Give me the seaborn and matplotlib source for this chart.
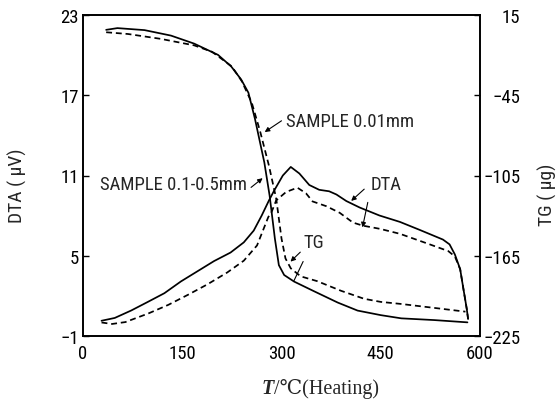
import matplotlib
matplotlib.use("Agg")
import matplotlib.pyplot as plt
from matplotlib import font_manager as fm
import seaborn as sns
import pandas as pd

# ---------------- data ----------------
temp_tg_solid = [35, 52, 93, 133, 168, 204, 224, 239, 250, 260, 274, 282, 290, 296,
                 304, 319, 349, 385, 415, 450, 481, 531, 581]
tg_solid = [3.9, 5.2, 3.7, -0.4, -6.4, -14.8, -23.5, -33.2, -43.1, -62.9, -95.1, -119.9,
            -152.2, -172.0, -179.4, -184.3, -191.5, -200.0, -206.0, -209.4, -211.8, -213.1, -214.8]

temp_tg_dashed = [35, 68, 117, 168, 195, 225, 240, 255, 268, 281, 292, 300, 306, 314,
                  329, 354, 390, 425, 450, 480, 531, 578]
tg_dashed = [2.1, 0.8, -2.8, -7.7, -12.5, -23.5, -34.5, -50.5, -72.6, -97.6, -122.3, -152.1,
             -167.0, -174.4, -180.4, -184.0, -191.2, -197.2, -199.5, -201.0, -204.0, -206.8]

temp_dta_solid = [28, 48, 73, 98, 123, 148, 173, 198, 223, 243, 258, 270, 281, 289, 302, 314,
                  327, 342, 357, 372, 383, 398, 418, 448, 479, 509, 544, 554, 562, 570, 575, 580, 582]
dta_solid = [0.14, 0.35, 0.91, 1.55, 2.2, 3.08, 3.84, 4.6, 5.24, 6.0, 6.88, 8.0, 9.13, 9.88, 11.0,
             11.64, 11.15, 10.29, 9.93, 9.82, 9.58, 9.09, 8.61, 8.01, 7.53, 6.93, 6.21, 5.85, 5.1,
             4.0, 2.5, 1.02, 0.27]

temp_dta_dashed = [28, 44, 64, 99, 129, 159, 188, 218, 243, 263, 280, 285, 292, 307, 324, 337,
                   347, 368, 388, 408, 423, 449, 479, 519, 552, 562, 570, 575, 580, 582]
dta_dashed = [0.01, -0.1, 0.04, 0.69, 1.33, 2.09, 2.86, 3.75, 4.63, 5.77, 7.89, 8.27, 9.14, 9.77,
              10.09, 9.67, 9.06, 8.7, 8.21, 7.48, 7.25, 7.01, 6.64, 5.94, 5.35, 4.95, 4.0, 2.5, 1.02, 0.27]

x_ticks = [0, 150, 300, 450, 600]
dta_ticks = [-1, 5, 11, 17, 23]
tg_ticks = [15, -45, -105, -165, -225]

label_small = "SAMPLE 0.01mm"
label_large = "SAMPLE 0.1-0.5mm"

# ---------------- style ----------------
sns.set_theme(style="white")
names = {f.name for f in fm.fontManager.ttflist}
stretch = "normal"
narrow = None
for cand in ["Liberation Sans Narrow", "Arial Narrow", "Roboto Condensed", "DejaVu Sans Condensed"]:
    if cand in names:
        narrow = cand
        break
if narrow is None and any(f.name == "DejaVu Sans" and f.stretch in ("condensed", "semi-condensed")
                          for f in fm.fontManager.ttflist):
    narrow = "DejaVu Sans"
    stretch = "condensed"
if narrow is None:
    narrow = "Liberation Sans"
    fs = 11
else:
    fs = 13.5
plt.rcParams["font.family"] = [narrow, "DejaVu Sans"]
plt.rcParams["font.stretch"] = stretch

fig = plt.figure(figsize=(5.57, 4.06), dpi=100)
ax = fig.add_axes([83 / 557, 1 - 337 / 406, 397 / 557, 321 / 406])
ax2 = ax.twinx()

df_dta_s = pd.DataFrame({"T": temp_dta_solid, "v": dta_solid})
df_dta_d = pd.DataFrame({"T": temp_dta_dashed, "v": dta_dashed})
df_tg_s = pd.DataFrame({"T": temp_tg_solid, "v": tg_solid})
df_tg_d = pd.DataFrame({"T": temp_tg_dashed, "v": tg_dashed})

lw = 1.25
dash = (3.4, 2.2)
sns.lineplot(data=df_dta_s, x="T", y="v", ax=ax, color="black", lw=lw, sort=False, estimator=None)
sns.lineplot(data=df_dta_d, x="T", y="v", ax=ax, color="black", lw=lw, sort=False, estimator=None,
             dashes=False).lines[-1].set_dashes(dash)
sns.lineplot(data=df_tg_s, x="T", y="v", ax=ax2, color="black", lw=lw, sort=False, estimator=None)
sns.lineplot(data=df_tg_d, x="T", y="v", ax=ax2, color="black", lw=lw, sort=False, estimator=None,
             dashes=False).lines[-1].set_dashes(dash)

ax.set_xlim(0, 600)
ax.set_ylim(-1, 23)
ax2.set_ylim(-225, 15)
ax.set_xticks(x_ticks)
ax.set_yticks(dta_ticks)
ax2.set_yticks(tg_ticks)
ax.set_xlabel("")
ax.set_ylabel("")
ax2.set_ylabel("")

for a in (ax, ax2):
    for sp in a.spines.values():
        sp.set_visible(True)
        sp.set_color("black")
        sp.set_linewidth(1.2)
ax.tick_params(axis="x", direction="in", length=4, width=1, pad=6, labelsize=fs, colors="black")
ax.tick_params(axis="y", direction="in", length=4, width=1, pad=3, labelsize=fs, colors="black")
ax2.tick_params(axis="y", direction="in", length=4, width=1, pad=29, labelsize=fs, colors="black")
for t in ax2.get_yticklabels():
    t.set_horizontalalignment("right")

# axis titles
fig.text(17 / 557, 1 - 186 / 406, "DTA ( μV)", rotation=90, ha="center", va="center",
         fontsize=fs + 0.5)
fig.text(547 / 557, 1 - 195 / 406, "TG ( μg)", rotation=90, ha="center", va="center",
         fontsize=fs + 0.5)
serif = ["Liberation Serif", "DejaVu Serif"]
fig.text(274 / 557, 1 - 389 / 406, "T", ha="right", va="center", fontsize=14.5,
         family=serif, style="italic", weight="bold")
fig.text(274 / 557, 1 - 389 / 406, "/℃(Heating)", ha="left", va="center", fontsize=14.5,
         family=serif)

# annotations
afs = fs
arrow = dict(arrowstyle="-|>", lw=0.8, color="black", mutation_scale=7, shrinkA=0, shrinkB=0)
line = dict(arrowstyle="-", lw=0.8, color="black", shrinkA=0, shrinkB=0)
ax.text(307, 15.05, label_small, fontsize=afs, ha="left", va="center")
ax.annotate("", xy=(274.6, 14.25), xytext=(300, 15.09), arrowprops=arrow)
ax.text(248, 10.35, label_large, fontsize=afs, ha="right", va="center")
ax.annotate("", xy=(271.5, 10.8), xytext=(254, 10.11), arrowprops=arrow)
ax.text(458, 10.37, "DTA", fontsize=afs, ha="center", va="center")
ax.annotate("", xy=(405.3, 9.1), xytext=(425, 9.98), arrowprops=arrow)
ax.annotate("", xy=(422.4, 7.12), xytext=(430.4, 8.99), arrowprops=arrow)
ax.text(349, 6.0, "TG", fontsize=afs, ha="center", va="center")
ax.annotate("", xy=(313.6, 4.56), xytext=(328.4, 5.27), arrowprops=arrow)
ax.annotate("", xy=(318.5, 3.1), xytext=(332.7, 4.57), arrowprops=line)

fig.savefig("out.png", dpi=100)
